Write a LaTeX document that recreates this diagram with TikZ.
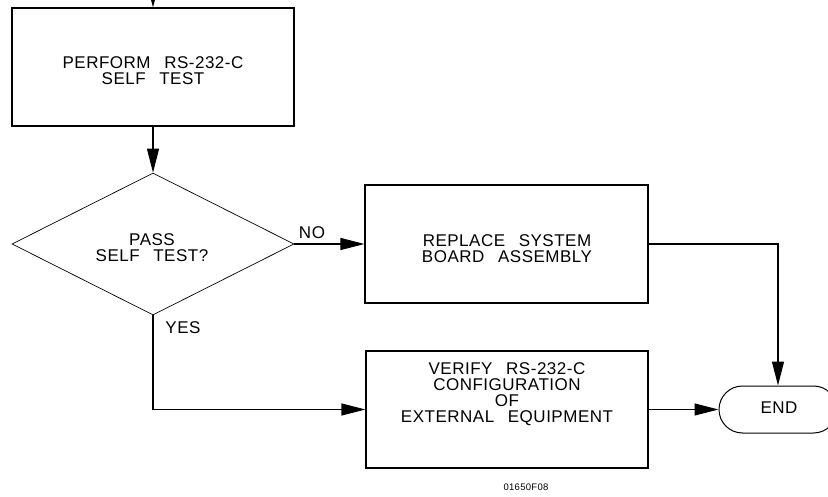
\documentclass[tikz,border=0pt]{standalone}
\usepackage{fontspec}
\setmainfont{Liberation Sans}[LetterSpace=3,WordSpace=2.6]
\usetikzlibrary{arrows.meta,shapes.geometric,shapes.misc}
\begin{document}
\begin{tikzpicture}[x=1pt,y=-1pt,
  box/.style={draw,line width=1.1pt,shape=rectangle,inner sep=0pt},
  txt/.style={anchor=north,inner sep=0pt,align=center,font=\fontsize{17}{16}\selectfont},
  lbl/.style={inner sep=0pt,font=\fontsize{17}{16}\selectfont},
  arr/.style={line width=1.1pt,-{Triangle[length=24pt,width=12pt]}}
]
\useasboundingbox (0,0) rectangle (828,497);
\coordinate (top) at (153,-30);
\node[box,minimum width=282pt,minimum height=118pt] (b1) at (153,67) {};
\node[txt] (t1) at (153,56) {PERFORM RS-232-C\\SELF TEST};
\node[diamond,draw,line width=0.7pt,minimum width=282pt,minimum height=142pt,inner sep=0pt] (d) at (153,244) {};
\node[txt] (td) at (152,233) {PASS\\SELF TEST?};
\node[box,minimum width=283pt,minimum height=118pt] (b2) at (506.5,244) {};
\node[txt] (t2) at (507,234) {REPLACE SYSTEM\\BOARD ASSEMBLY};
\node[box,minimum width=282pt,minimum height=117pt] (v) at (507,409.5) {};
\node[txt] (tv) at (507,362) {VERIFY RS-232-C\\CONFIGURATION\\OF\\EXTERNAL EQUIPMENT};
\node[rounded rectangle,draw,line width=1pt,minimum width=118pt,minimum height=47pt,inner sep=0pt] (e) at (778,409.5) {};
\node[txt] (te) at (779,402) {END};
\node[lbl] (no) at (312,233) {NO};
\node[lbl] (yes) at (183,327.5) {YES};
\node[inner sep=0pt,font=\fontsize{9.5}{10}\selectfont] (code) at (526,487) {01650F08};
\draw[arr] (top) -- (b1);
\draw[arr] (b1) -- (d);
\draw[arr] (d) -- (b2);
\draw[arr] (b2.east) -| (e.north);
\draw[arr] (d.south) |- (v.west);
\draw[arr] (v) -- (e);
\end{tikzpicture}
\end{document}
